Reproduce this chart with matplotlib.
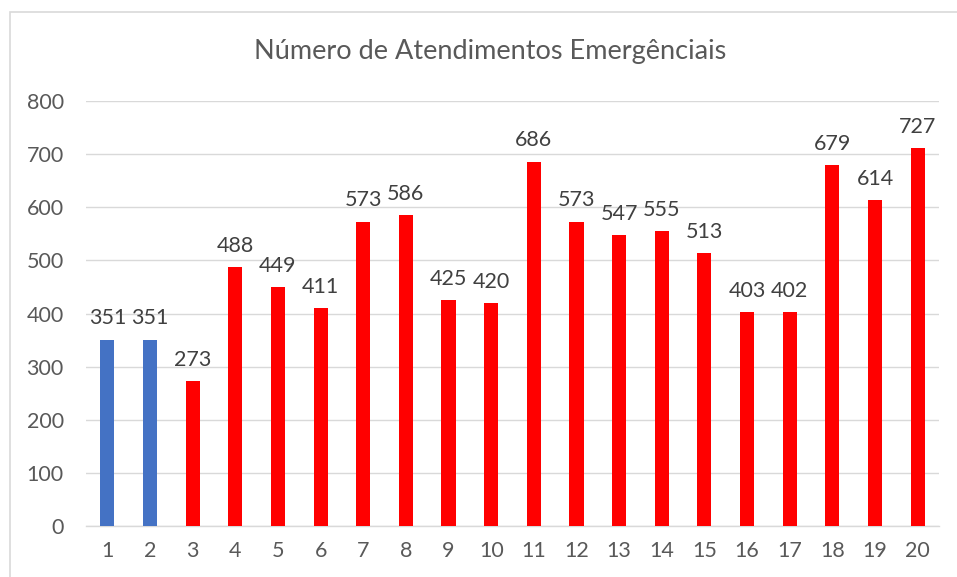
import matplotlib
matplotlib.use("Agg")
import matplotlib.pyplot as plt
from matplotlib.patches import Rectangle

categories = [str(i) for i in range(1, 21)]
bar_values = [351, 351, 273, 488, 449, 411, 573, 586, 425, 420,
              686, 573, 547, 555, 513, 403, 402, 679, 614, 712]
label_texts = ["351", "351", "273", "488", "449", "411", "573", "586", "425", "420",
               "686", "573", "547", "555", "513", "403", "402", "679", "614", "727"]
bar_colors = ["#4472C4", "#4472C4"] + ["#FF0000"] * 18
y_ticks = [0, 100, 200, 300, 400, 500, 600, 700, 800]

plt.rcParams['font.family'] = ['Lato', 'DejaVu Sans']

W, H = 957, 577
fig = plt.figure(figsize=(W / 100, H / 100), dpi=100)
ax = fig.add_axes([86 / W, 1 - 526 / H, (939 - 86) / W, (526 - 101) / H])

x = list(range(len(categories)))
ax.bar(x, bar_values, width=0.33, color=bar_colors, zorder=3)
for xi, v, t in zip(x, bar_values, label_texts):
    ax.annotate(t, (xi, v), xytext=(0, 8), textcoords="offset points",
                ha="center", va="bottom", fontsize=15.5, color="#404040")

ax.set_xlim(-0.5, len(categories) - 0.5)
ax.set_ylim(0, 800)
ax.set_yticks(y_ticks)
ax.set_yticklabels([str(v) for v in y_ticks])
ax.set_xticks(x)
ax.set_xticklabels(categories)
ax.tick_params(axis="both", length=0, labelsize=15.5, colors="#595959")
ax.tick_params(axis="y", pad=16)
ax.tick_params(axis="x", pad=11)
ax.grid(axis="y", color="#D9D9D9", linewidth=1, zorder=0)
for s in ["top", "right", "left"]:
    ax.spines[s].set_visible(False)
ax.spines["bottom"].set_color("#D9D9D9")
ax.spines["bottom"].set_linewidth(1)

fig.text(490 / W, 1 - 52 / H, "Número de Atendimentos Emergênciais",
         ha="center", va="center", fontsize=19.5, color="#595959")

fig.patches.append(Rectangle((9.5 / W, -0.1), 1.2, 1 - 11.5 / H + 0.1,
                             transform=fig.transFigure, fill=False,
                             edgecolor="#D9D9D9", linewidth=1.2))

fig.savefig("out.png", dpi=100)
